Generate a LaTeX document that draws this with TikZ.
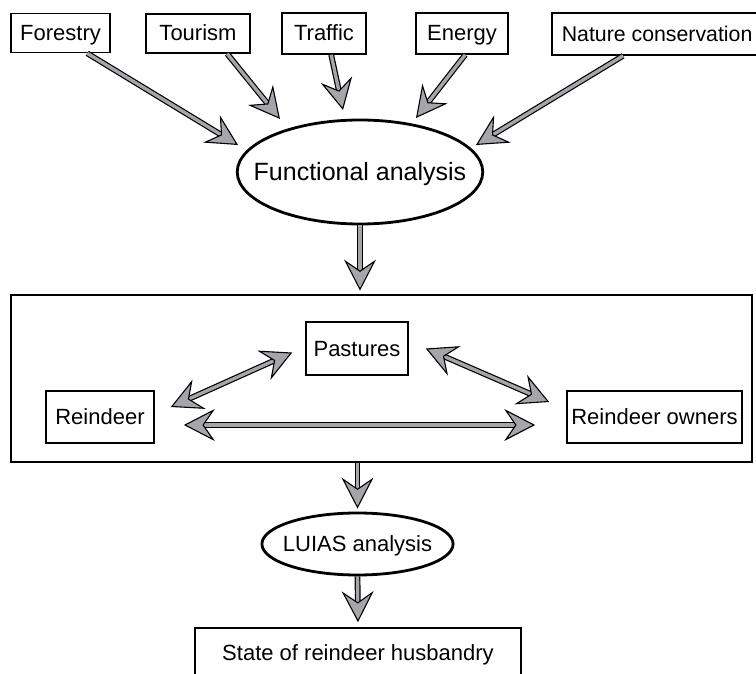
\documentclass[tikz,border=0pt]{standalone}
\usepackage{fontspec}
\setmainfont{Liberation Sans}
\usetikzlibrary{arrows.meta,shapes.geometric,calc}
\definecolor{agray}{RGB}{165,165,170}
\tikzset{bigtip/.tip={Stealth[length=31pt,width=32pt,inset=11pt,fill=agray,line width=1.1pt]}}
\begin{document}
\begin{tikzpicture}[x=1pt,y=-1pt,
  txt/.style={font=\fontsize{22}{25}\selectfont,text height=16pt,text depth=1pt},
  box/.style={txt,draw,line width=1.6pt,inner sep=0pt,align=center},
  oval/.style={draw,line width=2.8pt,ellipse,inner ysep=0pt},
  fat/.style={draw=black,line width=1.2pt,double=agray,double distance=3.4pt,-{bigtip}},
  fatboth/.style={draw=black,line width=1.2pt,double=agray,double distance=3.4pt,{bigtip}-{bigtip}}
]
\useasboundingbox (0,0) rectangle (756,674);
\clip (0,0) rectangle (756,674);
% top boxes
\node[box,minimum width=99pt,minimum height=39pt] (forestry) at (60.5,33) {Forestry};
\node[box,minimum width=104pt,minimum height=39pt] (tourism) at (198,33.5) {Tourism};
\node[box,minimum width=84pt,minimum height=41pt] (traffic) at (324,33.5) {Traffic};
\node[box,minimum width=92pt,minimum height=41pt] (energy) at (462,33.5) {Energy};
\node[box,anchor=west,inner xsep=10pt,minimum height=42pt,font=\fontsize{21.3}{25}\selectfont] (nature) at (551,34) {Nature conservation};
% functional analysis
\node[oval,inner xsep=-19.5pt,minimum height=104pt,font=\fontsize{25}{28}\selectfont,text height=18pt,text depth=1pt] (fa) at (360,172) {Functional analysis};
% big box
\node[draw,line width=2.8pt,minimum width=741pt,minimum height=167pt,inner sep=0pt] (big) at (381.5,378.5) {};
\node[box,minimum width=102pt,minimum height=53pt] (pastures) at (357,348.5) {Pastures};
\node[box,minimum width=108pt,minimum height=52pt] (reindeer) at (100,417) {Reindeer};
\node[box,minimum width=175pt,minimum height=52pt] (owners) at (654.5,417) {Reindeer owners};
% LUIAS
\node[oval,txt,inner xsep=-7pt,minimum height=62pt] (luias) at (357.5,544) {LUIAS analysis};
\node[box,minimum width=326pt,minimum height=50pt] (state) at (358,653) {State of reindeer husbandry};
% tip coordinates
\coordinate (t1) at (238,145);
\coordinate (t2) at (280,119);
\coordinate (t3) at (343,110);
\coordinate (t4) at (416,118);
\coordinate (t5) at (476,145);
% arrows top
\draw[fat] ($(forestry.south west)+(77,0)$) -- (t1);
\draw[fat] ($(tourism.south west)+(82,0)$) -- (t2);
\draw[fat] ($(traffic.south west)+(50,0)$) -- (t3);
\draw[fat] ($(energy.south west)+(50,0)$) -- (t4);
\draw[fat] ($(nature.south west)+(72,0)$) -- (t5);
\draw[fat] (fa.south) -- ($(fa.south |- big.north)+(0,-3)$);
% inner arrows
\draw[fatboth] ($(reindeer.east)+(16,-10)$) -- ($(pastures.west)+(-13,4)$);
\draw[fatboth] ($(pastures.east)+(17,0)$) -- ($(owners.west)+(-17,-15)$);
\draw[fatboth] ($(reindeer.east)+(29,8)$) -- ($(owners.west)+(-31,8)$);
% lower arrows
\draw[fat] (big.south -| luias.north) -- ($(luias.north)+(0,-3)$);
\draw[fat] (luias.south) -- ($(state.north)+(0,-5)$);
\end{tikzpicture}
\end{document}
